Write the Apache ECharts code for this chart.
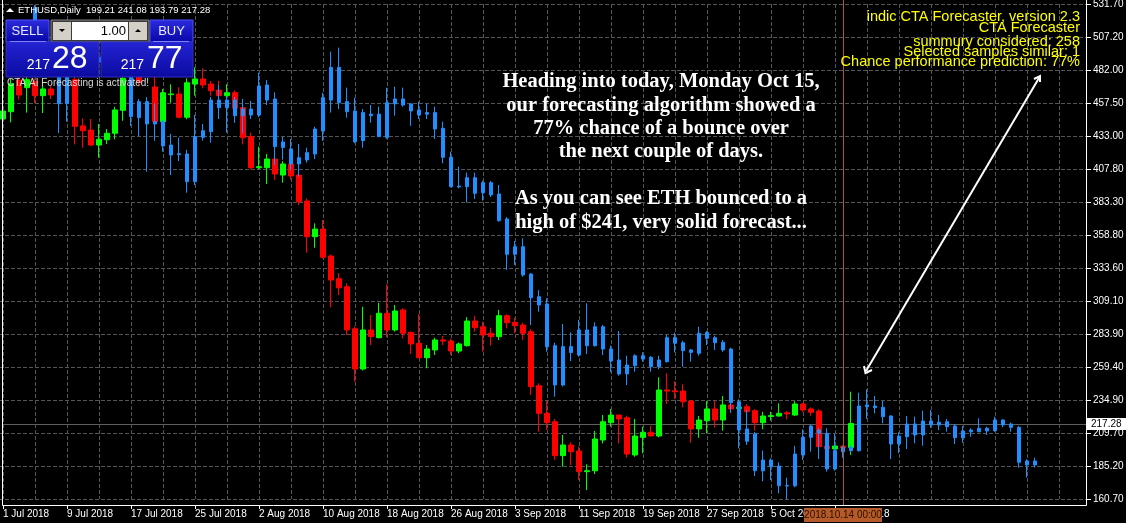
<!DOCTYPE html>
<html><head><meta charset="utf-8">
<script src="https://cdn.jsdelivr.net/npm/echarts@6/dist/echarts.min.js"></script>
<style>html,body{margin:0;padding:0;background:#000;overflow:hidden}#c{width:1126px;height:523px}</style>
</head><body><div id="c"></div>
<script>
// ---- data ----
const monthNames = ['Jan','Feb','Mar','Apr','May','Jun','Jul','Aug','Sep','Oct','Nov','Dec'];
const categoryCount = 136; // daily slots from 1 Jul 2018 (incl. forecast area)
const categories = [];
for (let i = 0; i < categoryCount; i++) {
  const d = new Date(Date.UTC(2018, 6, 1 + i));
  categories.push(d.getUTCFullYear() + '.' + String(d.getUTCMonth() + 1).padStart(2, '0') + '.' + String(d.getUTCDate()).padStart(2, '0'));
}
const markerIndex = 105;             // 2018.10.14 00:00
const priceTickLabels = ['160.70','185.20','209.70','234.90','259.40','283.90','309.10','333.60','358.80','383.30','407.80','433.00','457.50','482.00','507.20','531.70'];

// actual ETHUSD daily candles [open, high, low, close]
const ethOHLC = [
[445.5,455,441,451.5],[451,476,443,472],[474.5,478,460,463.5],[469,478,450.3,475],[473.5,476,457.3,463],
[463,473,450,468],[468,470,460.5,463.5],[480,492,478,488],[488,496,480,484],[475,482,426.5,440],
[440.3,446,424,436.7],[437.2,445.5,425.3,426],[426,441.8,416.5,430.3],[430,438,426.8,434.8],[434.8,454.7,430.3,452.3],
[452,480,444.2,476],[478,492,477,488],[490,495,470,473],[480,488,478,485],[469.5,478,429.3,443.5],
[443.5,468,440,465.2],[463.8,471.5,457.7,464.3],[464.2,469.3,446,446.8],[446.8,476,445.3,472.7],[471.7,484.2,463,475.5],
[475.5,483.5,468.5,471],[471.7,474,463,466.7],[467.2,474,457.3,463],[463,471.5,460,465.2],[465.2,467,442.7,453.5],
[454,460.3,426.5,431.5],[432.3,435.3,407.8,409],[409,424.8,407.8,409.8],[409,419.3,396.8,415.5],[415.5,418,399.8,404.3],
[403.5,414,397.8,411.8],[411.8,414,400,402.8],[403.5,405,381,383.5],[384,386,345.3,357.3],[357.3,367.3,349,363],
[363,369.8,341,341.8],[342.8,344,304.4,324.8],[325.8,329.9,313.6,319],[319.8,322.4,283.6,287.4],[288.3,290,248.6,258.1],
[258.1,304.8,257,287.4],[287.4,298.6,276,282.4],[281.6,307.8,281.1,299.9],[299.9,321.6,281.9,287.4],[287.4,306.1,286.1,301.6],
[302.4,303.6,281.1,284.9],[285.6,286.1,269.4,276.9],[277.4,299.4,266.1,266.6],[266.6,276,258.7,273.1],[272.4,281.6,268.6,279.9],
[279.9,282.9,276.1,279.1],[279.1,280.8,268.6,271.6],[271.6,278,270,276.9],[275.6,297,275,294.1],[294.1,297.9,286.1,289.1],
[289.8,293.6,271.1,283.6],[284.9,289.1,275.6,282.4],[282.4,302.4,279.9,298.1],[298.1,299.1,288.6,292.8],[293.1,296.6,284.9,290.6],
[291.1,292.8,279.9,284.9],[286.1,288,238.7,244.9],[245.6,247.4,211.1,224.9],[224.9,234.1,212.4,217.9],[218.6,220.7,190,193.2],
[193.2,208.7,184.9,201.2],[201.2,203.2,186.2,196.2],[196.7,199.9,174.9,181.2],[181.2,186.7,167.4,181.9],[181.9,211.7,179.4,205.7],
[204.9,223.6,202.4,218.6],[217.9,228.2,214.9,223.6],[223.6,224,202.4,220.7],[221.6,223.1,191.7,194.4],[193.7,220.7,192.4,207.9],
[206.9,214.9,194.9,210.7],[210.7,215.6,207.9,207.9],[207.9,251.9,206.9,242.4],[242.4,254.9,231.9,241.6],[241.8,249.1,235.6,241.1],
[241.6,246.7,229.4,233.6],[234.1,235,202.9,213.2],[213.2,222.9,206.6,219.9],[219.4,234.1,209.9,228.2],[228.2,234.1,214.2,219.9],
[219.9,237.9,211.9,231.2],[231.2,234,225,228.2],[228.5,231,226,229.5],[229.9,231.9,222.9,226.1],[226.9,228,212,217.9],
[217.9,226,213,222.9],[222.5,226,219.5,223.2],[222.9,232.4,222.4,224.9],[225.3,226.6,220.4,224.5],[223.6,234,223,231.9],
[231.9,232.5,225.8,227.4],[228.2,229.4,223.1,225.7],[226.6,228,198,199.9],[200.4,201,197.5,198.2],[198.2,201,197.5,200.4],
[200.3,201,198,199.2],[199.21,241.08,193.79,217.28]
];

// CTA forecaster (blue) candles [open, high, low, close], starting at day index 1
const forecastStart = 1;
const forecastOHLC = [
[490,496,482,486],[486,494,480,492],[492,500,488,497],[529,531,494,500],[500,508,492,495],
[495,500,484,488],[486,490,435,457],[484,488,443.5,457],[490,500,482,495],[495,505,490,500],
[500,506,488,492],[492,498,484,488],[488,495,480,493],[493,500,486,490],[490,496,480,484],
[482,486,440.3,447.3],[458.5,460.5,432.8,446.5],[458.5,462,406,441.8],[443.5,457.3,429.3,441.8],[443.5,445,421,425.3],
[426,434.3,403.5,418.5],[419.5,431.5,414,418.8],[419.3,422.3,390.3,398.5],[432.3,448.5,396,398.5],[436.7,441.8,429.3,431.8],
[459.7,462,427.7,436],[459.7,471,445.5,454],[459.7,462,435.3,454],[459.7,462,442.7,448],[453,460.5,434.8,448],
[453,459,445.5,448.5],[470.2,480.2,447,448.5],[471,474.7,456,459.7],[460.5,465.5,411,424.8],[428.3,432,415,424.2],
[423,430.5,407,411.8],[416.5,426.8,402.3,411.8],[420.3,424,412.8,414.8],[438,439.7,415.5,419.3],[461.5,465.2,429,436.5],
[484.2,496,450.3,459.7],[484.2,499,453,457.7],[458.5,469,446.5,451],[451.5,461.5,427.3,428.5],[450.3,453,424,429.3],
[449.2,456,442.7,448],[449.2,454.7,432,432.3],[457.7,469,430.5,431.8],[460.5,469.7,448,456.8],[460.5,469,454.7,456],
[456.8,457.5,440.3,451.5],[452.3,458.5,445.5,448.5],[450.3,456.8,445.5,449.1],[450.3,454.7,430.5,438],[438.5,443.5,412.3,416.8],
[416.8,421,394.3,394.8],[395.2,409.8,393.6,394.6],[401.5,405.3,383,394.8],[401.5,405.3,385.5,389.8],[397.8,399.3,384.3,390.3],
[397.8,399,387,388.6],[389.3,396,368.5,369.3],[370.6,372,332.4,344.1],[349.8,354.1,336.1,344.1],[349.8,356.1,327.3,328.6],
[329.3,330,291.1,311.6],[312.3,317.3,301.1,306.1],[306.9,311.1,271.1,274.9],[275.6,277.8,237.4,246.1],[274.9,291.9,245,246.1],
[274.9,285.6,264.1,270.4],[287.4,294.9,267.3,268.6],[287.4,307.4,269.4,275.6],[289.8,293.1,275,275.6],[289.8,291.1,268.6,273.1],
[273.1,275.6,255.7,264.1],[264.9,286.6,253.1,254.4],[261.1,268.1,246.1,254.4],[268.1,269.1,256.1,260.6],[268.1,270.6,263.6,265.6],
[266.9,267.9,256.1,259.9],[264.9,268,258,259.9],[281.6,283.6,263,263.6],[281.6,285.4,270.6,277.4],[277.8,279.4,259.9,271.9],
[272.4,273.1,263.6,270.6],[284.9,289.8,268.1,269.9],[285.4,286.6,276.1,281.1],[281.6,283.1,272.4,277.8],[278.1,279.9,271,272.4],
[273.1,274.1,225.4,232.9],[233.6,235.4,198.7,212.4],[213.2,227.4,201.2,204],[209.5,211,178,181.9],[189.9,197,174,181.8],
[189.9,191.2,174.9,184.9],[185.4,188.2,165,170.6],[170.8,176.7,160.5,170.4],[194.4,200.4,169.5,170.6],[207,212.9,190,193.7],
[215.4,216.2,196.2,207],[212.4,214.1,190.7,209.9],[209.9,213.7,181.2,183.2],[196.9,209.4,181.9,183.2],[199.4,200.5,191.6,196.1],
[199.4,201,195.5,196.9],[230.4,240.4,196.2,196.9],[231.2,242.9,220.7,229.9],[230.4,237.9,224.9,229.1],[229.4,234.1,217.4,222.4],
[222.9,223.5,190.7,201.9],[207.9,210.7,195,201.9],[216.9,222.9,198.2,207.4],[216.9,222.4,202.4,208.7],[219.1,226.9,200.7,208.7],
[219.1,227.4,214,216.2],[218.2,223.6,212.4,216.2],[218.6,220.7,211.2,214.9],[215.4,216.9,201.9,206.6],[211.7,215.4,202.9,206.6],
[212.4,213.7,207.4,211.1],[213.7,221.2,211.1,211.1],[213.7,214.9,208.7,211.7],[219.9,222.4,211.1,211.9],[219.9,220.4,214.4,216.2],
[216.9,218,211.1,214.4],[214.4,215.4,184.2,188.2],[189.2,190.5,176.7,186.2],[189.2,191.7,184.2,186.2]
];

const bidPrice = 217.28;
const headerText = 'ETHUSD,Daily  199.21 241.08 193.79 217.28';
const infoLines = ['indic CTA Forecaster, version 2.3','CTA Forecaster','summury considered: 258','Selected samples similar: 1','Chance performance prediction: 77%'];
const noteLines = ['Heading into today, Monday Oct 15,','our forecasting algorithm showed a','77% chance of a bounce over','the next couple of days.','','As you can see ETH bounced to a','high of $241, very solid forecast...'];

// ---- build ----
const Y_MIN = 160.7, Y_MAX = 531.7, Y_INT = (531.7 - 160.7) / 15;
const toEc = r => [r[0], r[3], r[2], r[1]];
const ethData = categories.map((c, i) => i < ethOHLC.length ? toEc(ethOHLC[i]) : '-');
const fcData = categories.map((c, i) => {
  const k = i - forecastStart;
  return (k >= 0 && k < forecastOHLC.length) ? toEc(forecastOHLC[k]) : '-';
});
function tickName(i) {
  const d = new Date(Date.UTC(2018, 6, 1 + i));
  return d.getUTCDate() + ' ' + monthNames[d.getUTCMonth()] + ' ' + d.getUTCFullYear();
}
const FONT = 'Liberation Sans, Arial, sans-serif';
const chart = echarts.init(document.getElementById('c'), null, {renderer: 'canvas'});
chart.setOption({
  backgroundColor: '#000',
  animation: false,
  grid: {left: -1, top: 4, width: 1088, height: 495, containLabel: false, outerBoundsMode: 'none'},
  xAxis: {
    type: 'category', data: categories, boundaryGap: true, offset: 6,
    axisLine: {show: false},
    axisTick: {show: true, alignWithLabel: true, length: 4, lineStyle: {color: '#fff'},
      interval: (i) => i % 8 === 0 && i <= 104},
    axisLabel: {color: '#fff', fontSize: 10, fontFamily: FONT, align: 'left', margin: 4,
      interval: (i) => i % 8 === 0 && i <= 104,
      formatter: (v, i) => tickName(i)},
    splitLine: {show: true, interval: (i) => i % 4 === 0, alignWithLabel: true, lineStyle: {color: '#555', width: 1, type: 'dashed'}}
  },
  yAxis: {
    type: 'value', position: 'right', min: Y_MIN, max: Y_MAX, interval: Y_INT,
    axisLine: {show: false},
    axisTick: {show: true, length: 4, lineStyle: {color: '#fff'}},
    axisLabel: {color: '#fff', fontSize: 10, fontFamily: FONT, margin: 6,
      formatter: v => priceTickLabels[Math.round((v - Y_MIN) / Y_INT)] || ''},
    splitLine: {show: true, lineStyle: {color: '#555', width: 1, type: 'dashed'}}
  },
  series: [
    {type: 'candlestick', name: 'ETHUSD', data: ethData, barWidth: 5, barMinWidth: 5, z: 2,
      itemStyle: {color: '#00ff00', color0: '#ff0000', borderColor: '#00ff00', borderColor0: '#ff0000', borderWidth: 1}},
    {type: 'candlestick', name: 'CTA Forecast', data: fcData, barWidth: 3, barMinWidth: 3, z: 3,
      itemStyle: {color: '#1e90ff', color0: '#1e90ff', borderColor: '#1e90ff', borderColor0: '#1e90ff', borderWidth: 1}}
  ]
});

// ---- overlays positioned through the chart's scales ----
const xMark = chart.convertToPixel({xAxisIndex: 0}, markerIndex);
const yBid = Math.round(chart.convertToPixel({yAxisIndex: 0}, bidPrice)) + 0.5;
const frameR = 1086.5, frameB = 505.5;
const g = [];
g.push({type: 'line', z: 1, shape: {x1: 2, y1: yBid, x2: frameR, y2: yBid}, style: {stroke: '#5e5e5e', lineWidth: 1}});
g.push({type: 'line', z: 4, shape: {x1: Math.round(xMark) + 0.5, y1: 0, x2: Math.round(xMark) + 0.5, y2: frameB}, style: {stroke: '#b0562a', lineWidth: 1}});
g.push({type: 'polyline', z: 20, shape: {points: [[2.5, 0], [2.5, frameB], [frameR, frameB], [frameR, 0]]}, style: {stroke: '#fff', lineWidth: 1, fill: null}});
g.push({type: 'rect', z: 30, shape: {x: Math.round(xMark) - 39, y: 508, width: 78, height: 14}, style: {fill: '#b55a28'}});
g.push({type: 'text', z: 31, x: Math.round(xMark), y: 515, style: {text: '2018.10.14 00:00', fill: '#2a1000', font: '10px ' + FONT, align: 'center', verticalAlign: 'middle'}});
g.push({type: 'rect', z: 30, shape: {x: 1087, y: yBid - 6.5, width: 39, height: 12}, style: {fill: '#fff'}});
g.push({type: 'text', z: 31, x: 1091, y: yBid, style: {text: bidPrice.toFixed(2), fill: '#000', font: '10px ' + FONT, verticalAlign: 'middle'}});
// header
g.push({type: 'polygon', z: 30, shape: {points: [[6, 12], [10, 8], [14, 12]]}, style: {fill: '#fff'}});
g.push({type: 'text', z: 30, x: 18, y: 10, style: {text: headerText, fill: '#fff', font: '9.5px ' + FONT, verticalAlign: 'middle'}});
// one-click trading panel
const grad = new echarts.graphic.LinearGradient(0, 0, 0, 1, [{offset: 0, color: '#2c2ce0'}, {offset: 1, color: '#0606a6'}]);
const grad2 = new echarts.graphic.LinearGradient(0, 0, 0, 1, [{offset: 0, color: '#2424d4'}, {offset: 1, color: '#0a0aa0'}]);
g.push({type: 'rect', z: 30, shape: {x: 6, y: 20, width: 43, height: 22}, style: {fill: grad, stroke: '#5050ff', lineWidth: 1}});
g.push({type: 'text', z: 31, x: 27.5, y: 31, style: {text: 'SELL', fill: '#e8e8ff', font: '13px ' + FONT, align: 'center', verticalAlign: 'middle'}});
g.push({type: 'line', z: 31, shape: {x1: 10, y1: 41.5, x2: 46, y2: 41.5}, style: {stroke: '#8080ff', lineWidth: 1}});
g.push({type: 'rect', z: 30, shape: {x: 150, y: 20, width: 43, height: 22}, style: {fill: grad, stroke: '#5050ff', lineWidth: 1}});
g.push({type: 'text', z: 31, x: 171.5, y: 31, style: {text: 'BUY', fill: '#e8e8ff', font: '13px ' + FONT, align: 'center', verticalAlign: 'middle'}});
g.push({type: 'line', z: 31, shape: {x1: 153, y1: 41.5, x2: 189, y2: 41.5}, style: {stroke: '#8080ff', lineWidth: 1}});
g.push({type: 'rect', z: 30, shape: {x: 51, y: 20, width: 98, height: 22}, style: {fill: '#3c3c3c', stroke: '#808080'}});
g.push({type: 'rect', z: 31, shape: {x: 53, y: 22, width: 18, height: 18}, style: {fill: '#d4d0c8'}});
g.push({type: 'polygon', z: 32, shape: {points: [[59, 29], [65, 29], [62, 32]]}, style: {fill: '#000'}});
g.push({type: 'rect', z: 31, shape: {x: 72, y: 22, width: 56, height: 18}, style: {fill: '#fff'}});
g.push({type: 'text', z: 32, x: 126, y: 31, style: {text: '1.00', fill: '#000', font: '13px ' + FONT, align: 'right', verticalAlign: 'middle'}});
g.push({type: 'rect', z: 31, shape: {x: 129, y: 22, width: 18, height: 18}, style: {fill: '#d4d0c8'}});
g.push({type: 'polygon', z: 32, shape: {points: [[135, 32], [141, 32], [138, 29]]}, style: {fill: '#000'}});
g.push({type: 'rect', z: 30, shape: {x: 6, y: 42, width: 93, height: 35}, style: {fill: grad2, stroke: '#3030c0'}});
g.push({type: 'rect', z: 30, shape: {x: 101, y: 42, width: 92, height: 35}, style: {fill: grad2, stroke: '#3030c0'}});
g.push({type: 'text', z: 31, x: 50, y: 65, style: {text: '217', fill: '#fff', font: '14px ' + FONT, align: 'right', verticalAlign: 'middle'}});
g.push({type: 'text', z: 31, x: 52, y: 59, style: {text: '28', fill: '#fff', font: '32px ' + FONT, align: 'left', verticalAlign: 'middle'}});
g.push({type: 'text', z: 31, x: 144, y: 65, style: {text: '217', fill: '#fff', font: '14px ' + FONT, align: 'right', verticalAlign: 'middle'}});
g.push({type: 'text', z: 31, x: 147, y: 59, style: {text: '77', fill: '#fff', font: '32px ' + FONT, align: 'left', verticalAlign: 'middle'}});
g.push({type: 'text', z: 30, x: 7, y: 83, style: {text: 'CTA AI Forecasting is activated!', fill: '#d8d8d8', font: '10px ' + FONT, verticalAlign: 'middle'}});
// indicator info (yellow)
const infoMid = [16.5, 27.5, 42, 51.5, 61.5];
infoLines.forEach((t, k) => g.push({type: 'text', z: 30, x: 1080, y: infoMid[k], style: {text: t, fill: '#ffff00', font: '14.5px ' + FONT, align: 'right', verticalAlign: 'middle'}}));
// annotation text
noteLines.forEach((t, k) => { if (t) g.push({type: 'text', z: 30, x: 661, y: 82 + k * 23.4, style: {text: t, fill: '#fff', font: 'bold 20.5px Liberation Serif, Times New Roman, serif', align: 'center', verticalAlign: 'middle'}}); });
// arrow
g.push({type: 'line', z: 30, shape: {x1: 866, y1: 371, x2: 1039, y2: 78}, style: {stroke: '#fff', lineWidth: 2}});
g.push({type: 'polyline', z: 30, shape: {points: [[864, 366], [865.5, 373], [872, 370]]}, style: {stroke: '#fff', lineWidth: 2, fill: null}});
g.push({type: 'polyline', z: 30, shape: {points: [[1034, 79], [1040, 76], [1040, 82]]}, style: {stroke: '#fff', lineWidth: 2, fill: null}});
chart.setOption({graphic: {elements: g}});
</script>
</body></html>
